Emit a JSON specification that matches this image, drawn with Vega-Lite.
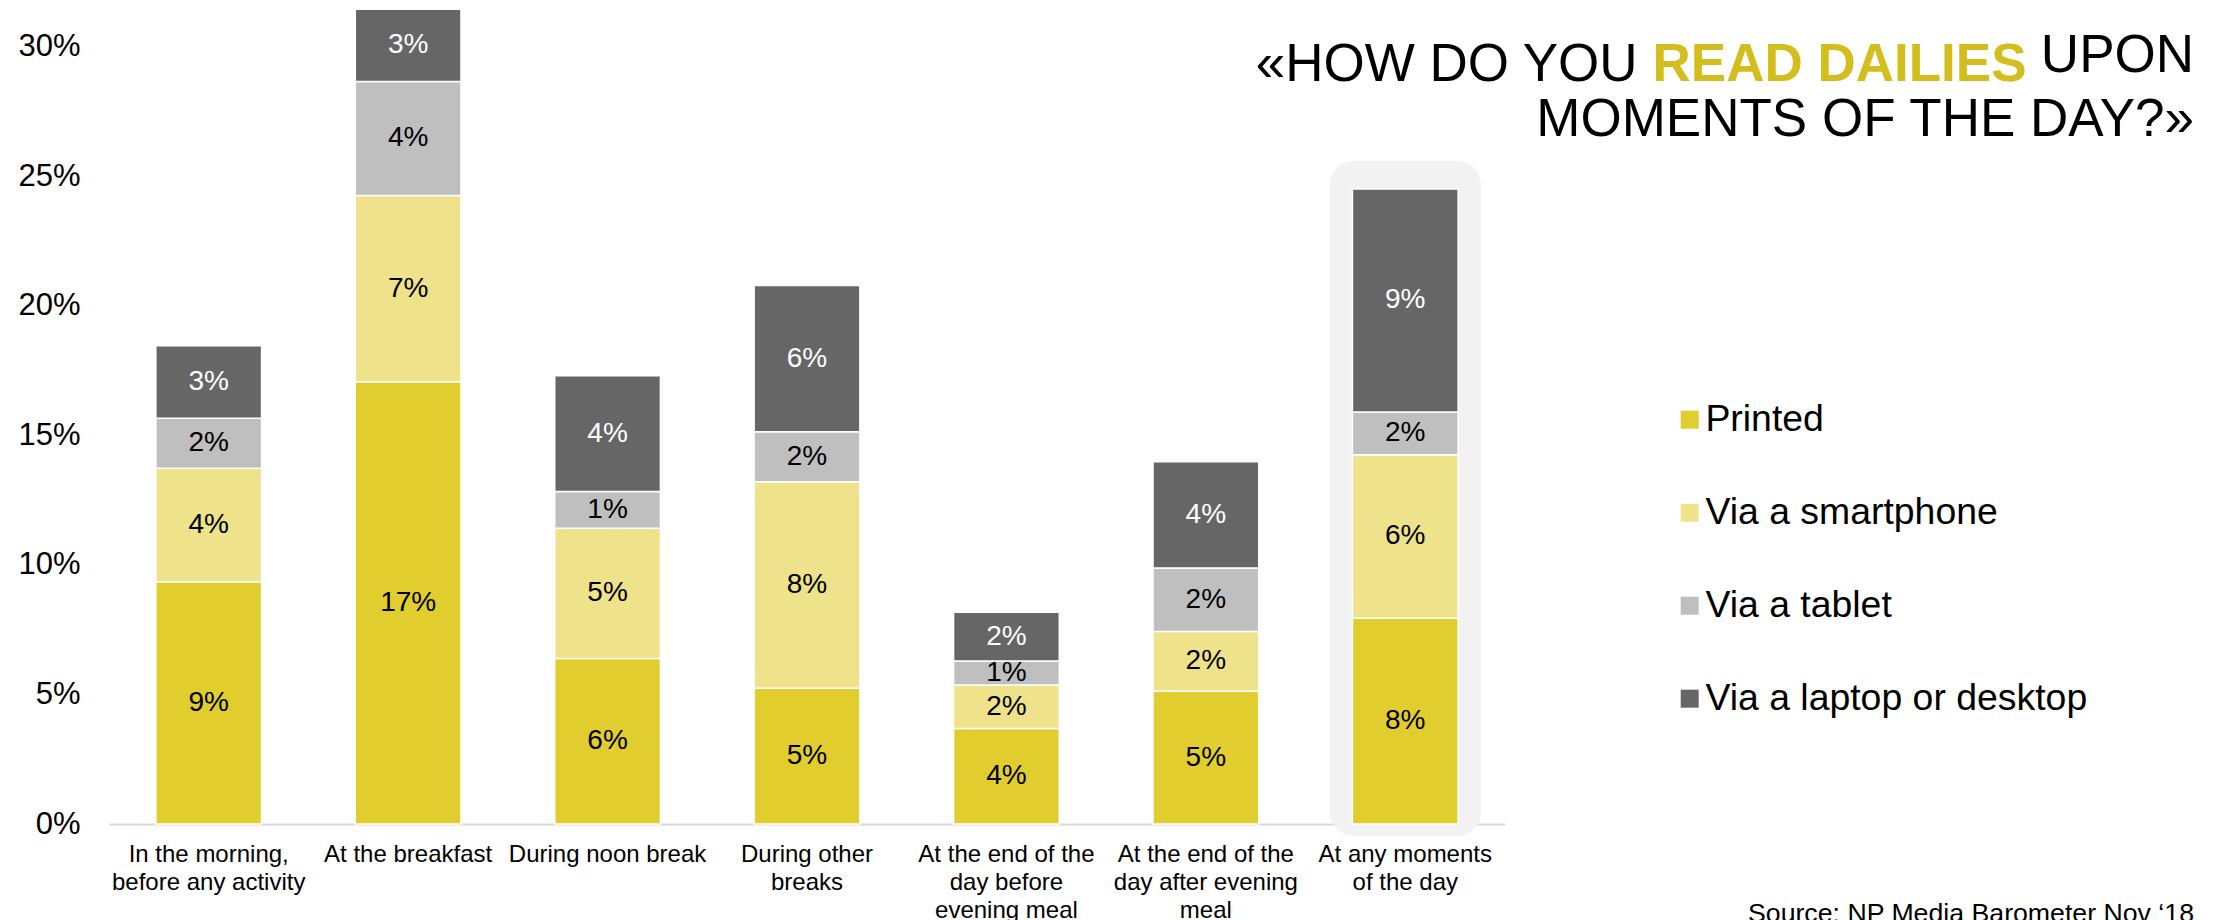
{
  "$schema": "https://vega.github.io/schema/vega-lite/v6.json",
  "width": 1396,
  "height": 824,
  "autosize": {"type": "none"},
  "padding": {"left": 109, "top": 0, "right": 722, "bottom": 96},
  "background": "white",
  "title": {
    "text": ["UPON", "MOMENTS OF THE DAY?»"],
    "subtitle": "Source: NP Media Barometer Nov ‘18",
    "anchor": "end",
    "frame": "group",
    "orient": "top",
    "offset": 0,
    "font": "Liberation Sans",
    "fontSize": 53,
    "fontWeight": "normal",
    "color": "#000000",
    "lineHeight": 64.5,
    "subtitleFont": "Liberation Sans",
    "subtitleFontSize": 26.7,
    "subtitleColor": "#000000",
    "subtitlePadding": 754,
    "dx": 689,
    "dy": 928
  },
  "datasets": {
    "bars": [
      {"moment": "In the morning,|before any activity", "device": "Printed", "k": 0, "value": 0.0935},
      {"moment": "In the morning,|before any activity", "device": "Via a smartphone", "k": 1, "value": 0.0438},
      {"moment": "In the morning,|before any activity", "device": "Via a tablet", "k": 2, "value": 0.0193},
      {"moment": "In the morning,|before any activity", "device": "Via a laptop or desktop", "k": 3, "value": 0.0280},
      {"moment": "At the breakfast", "device": "Printed", "k": 0, "value": 0.1707},
      {"moment": "At the breakfast", "device": "Via a smartphone", "k": 1, "value": 0.0719},
      {"moment": "At the breakfast", "device": "Via a tablet", "k": 2, "value": 0.0439},
      {"moment": "At the breakfast", "device": "Via a laptop or desktop", "k": 3, "value": 0.0279},
      {"moment": "During noon break", "device": "Printed", "k": 0, "value": 0.0639},
      {"moment": "During noon break", "device": "Via a smartphone", "k": 1, "value": 0.0502},
      {"moment": "During noon break", "device": "Via a tablet", "k": 2, "value": 0.0142},
      {"moment": "During noon break", "device": "Via a laptop or desktop", "k": 3, "value": 0.0447},
      {"moment": "During other|breaks", "device": "Printed", "k": 0, "value": 0.0524},
      {"moment": "During other|breaks", "device": "Via a smartphone", "k": 1, "value": 0.0797},
      {"moment": "During other|breaks", "device": "Via a tablet", "k": 2, "value": 0.0193},
      {"moment": "During other|breaks", "device": "Via a laptop or desktop", "k": 3, "value": 0.0564},
      {"moment": "At the end of the|day before|evening meal", "device": "Printed", "k": 0, "value": 0.0369},
      {"moment": "At the end of the|day before|evening meal", "device": "Via a smartphone", "k": 1, "value": 0.0167},
      {"moment": "At the end of the|day before|evening meal", "device": "Via a tablet", "k": 2, "value": 0.0093},
      {"moment": "At the end of the|day before|evening meal", "device": "Via a laptop or desktop", "k": 3, "value": 0.0188},
      {"moment": "At the end of the|day after evening|meal", "device": "Printed", "k": 0, "value": 0.0512},
      {"moment": "At the end of the|day after evening|meal", "device": "Via a smartphone", "k": 1, "value": 0.0231},
      {"moment": "At the end of the|day after evening|meal", "device": "Via a tablet", "k": 2, "value": 0.0245},
      {"moment": "At the end of the|day after evening|meal", "device": "Via a laptop or desktop", "k": 3, "value": 0.0410},
      {"moment": "At any moments|of the day", "device": "Printed", "k": 0, "value": 0.0795},
      {"moment": "At any moments|of the day", "device": "Via a smartphone", "k": 1, "value": 0.0630},
      {"moment": "At any moments|of the day", "device": "Via a tablet", "k": 2, "value": 0.0165},
      {"moment": "At any moments|of the day", "device": "Via a laptop or desktop", "k": 3, "value": 0.0861}
    ],
    "highlight": [
      {"moment": "At any moments|of the day", "top": 0.2559, "bottom": -0.0046}
    ]
  },
  "encoding": {
    "x": {
      "field": "moment",
      "type": "nominal",
      "sort": null,
      "scale": {
        "domain": ["In the morning,|before any activity", "At the breakfast", "During noon break", "During other|breaks", "At the end of the|day before|evening meal", "At the end of the|day after evening|meal", "At any moments|of the day"],
        "paddingInner": 0.47,
        "paddingOuter": 0.235
      },
      "axis": {
        "title": "READ DAILIES",
        "titleX": 1917,
        "titleY": -744,
        "titleAlign": "right",
        "titleAnchor": null,
        "titleBaseline": "alphabetic",
        "titleFont": "Liberation Sans",
        "titleFontSize": 53,
        "titleFontWeight": "bold",
        "titleColor": "#D4BE1E",
        "labelExpr": "split(datum.label, '|')",
        "labelAngle": 0,
        "labelFont": "Liberation Sans",
        "labelFontSize": 24,
        "labelColor": "#000000",
        "labelLineHeight": 28,
        "labelPadding": 18,
        "labelLimit": 400,
        "labelBaseline": "top",
        "ticks": false,
        "tickSize": 0,
        "domain": true,
        "domainColor": "#D9D9D9",
        "domainWidth": 2,
        "grid": false
      }
    }
  },
  "layer": [
    {
      "data": {"name": "highlight"},
      "mark": {"type": "bar", "color": "#F2F2F2", "cornerRadius": 24, "width": {"band": 1.43}},
      "encoding": {
        "y": {
          "field": "top",
          "type": "quantitative",
          "scale": {"domain": [0, 0.318], "nice": false, "zero": false},
          "axis": {
            "title": "«HOW DO YOU",
            "titleAngle": 0,
            "titleX": 1528,
            "titleY": 80,
            "titleAlign": "right",
            "titleAnchor": null,
            "titleBaseline": "alphabetic",
            "titleFont": "Liberation Sans",
            "titleFontSize": 53,
            "titleFontWeight": "normal",
            "titleColor": "#000000",
            "values": [0, 0.05, 0.1, 0.15, 0.2, 0.25, 0.3],
            "format": ".0%",
            "labelFont": "Liberation Sans",
            "labelFontSize": 31,
            "labelColor": "#000000",
            "labelPadding": 29,
            "ticks": false,
            "tickSize": 0,
            "domain": false,
            "grid": false
          }
        },
        "y2": {"field": "bottom"}
      }
    },
    {
      "data": {"name": "bars"},
      "mark": {"type": "bar", "stroke": "white", "strokeWidth": 1.5},
      "encoding": {
        "y": {"field": "value", "type": "quantitative", "stack": "zero"},
        "color": {
          "field": "device",
          "type": "nominal",
          "sort": ["Printed", "Via a smartphone", "Via a tablet", "Via a laptop or desktop"],
          "scale": {
            "domain": ["Printed", "Via a smartphone", "Via a tablet", "Via a laptop or desktop"],
            "range": ["#E1CD2E", "#EEE28A", "#BFBFBF", "#666666"]
          },
          "legend": {
            "title": null,
            "orient": "none",
            "legendX": 1562,
            "legendY": 401,
            "direction": "vertical",
            "padding": 0,
            "symbolType": "square",
            "symbolSize": 324,
            "symbolStrokeWidth": 0,
            "symbolOpacity": 1,
            "labelFont": "Liberation Sans",
            "labelFontSize": 37.4,
            "labelColor": "#000000",
            "labelOffset": -3,
            "labelLimit": 600,
            "rowPadding": 54
          }
        },
        "order": {"field": "k", "type": "quantitative"}
      }
    },
    {
      "data": {"name": "bars"},
      "mark": {"type": "text", "font": "Liberation Sans", "fontSize": 28, "baseline": "middle", "align": "center"},
      "encoding": {
        "y": {"field": "value", "type": "quantitative", "stack": "zero", "bandPosition": 0.5},
        "detail": {"field": "device", "type": "nominal"},
        "order": {"field": "k", "type": "quantitative"},
        "text": {"field": "value", "type": "quantitative", "format": ".0%"},
        "color": {
          "condition": {"test": "datum.device === 'Via a laptop or desktop'", "value": "#FFFFFF"},
          "value": "#000000"
        }
      }
    }
  ],
  "config": {
    "view": {"stroke": null},
    "font": "Liberation Sans"
  }
}
